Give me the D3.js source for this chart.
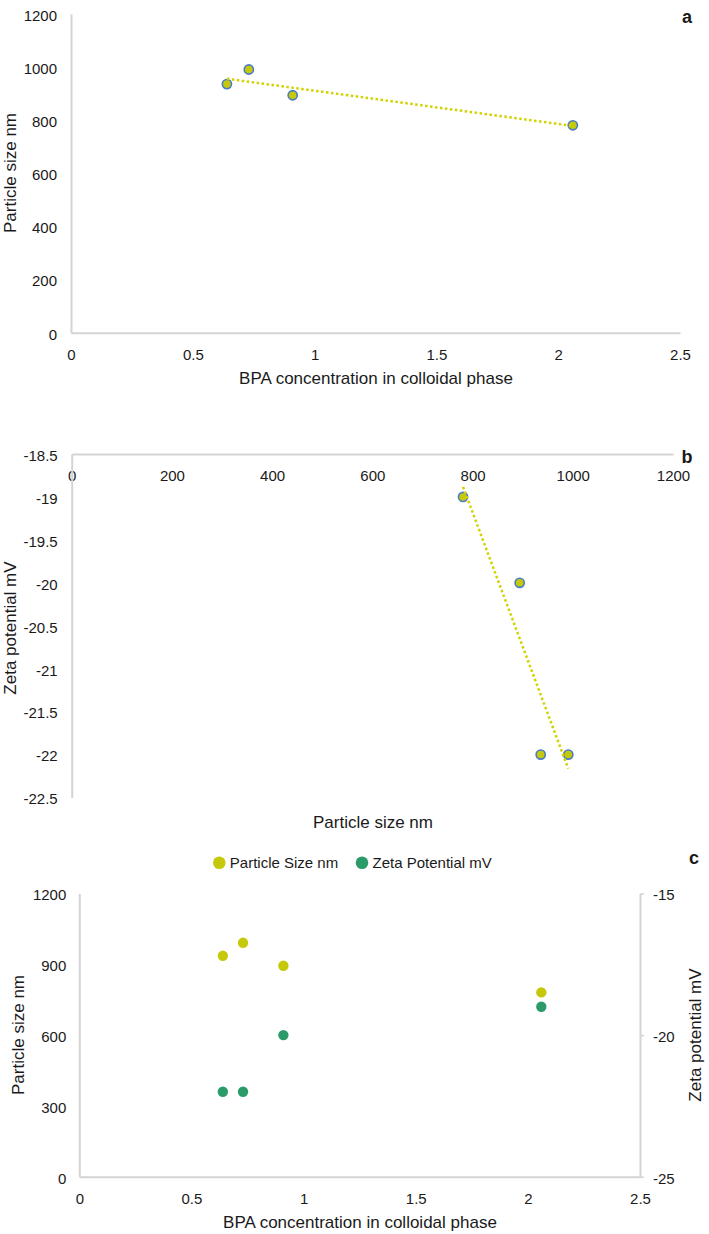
<!DOCTYPE html>
<html><head><meta charset="utf-8">
<script src="https://cdn.jsdelivr.net/npm/d3@7"></script>
<style>
html,body{margin:0;padding:0;background:#fff;}
svg{display:block;font-family:"Liberation Sans",Arial,sans-serif;}
</style></head>
<body>
<svg id="chart" width="709" height="1234"></svg>
<script>
// ---- data ----
const bpaConc = [0.64, 0.73, 0.91, 2.06];
const particleSize = [936, 991, 894, 781];
const zetaPotential = [-22, -22, -20, -19];
const bpaTicks = [0, 0.5, 1, 1.5, 2, 2.5];
const sizeTicksA = [0, 200, 400, 600, 800, 1000, 1200];
const sizeTicksB = [0, 200, 400, 600, 800, 1000, 1200];
const zetaTicksB = [-18.5, -19, -19.5, -20, -20.5, -21, -21.5, -22, -22.5];
const sizeTicksC = [0, 300, 600, 900, 1200];
const zetaTicksC = [-15, -20, -25];
const legendLabels = ["Particle Size nm", "Zeta Potential mV"];

// ---- style ----
const axisColor = "#d4d4d4";
const yellow = "#c6c90a";
const trendColor = "#d2d200";
const blue = "#4a7cc4";
const green = "#2b9c69";
const tickFont = 15, titleFont = 17;

const svg = d3.select("#chart");
const fmt = d => String(d);

function styleAxis(g) {
  g.select(".domain").attr("stroke", axisColor).attr("stroke-width", 2);
  g.selectAll(".tick line").attr("stroke", axisColor).attr("stroke-width", 1.5);
  g.selectAll("text").attr("fill", "#1a1a1a").attr("font-size", tickFont)
    .attr("font-family", "'Liberation Sans', Arial, sans-serif");
}

function linreg(xs, ys) {
  const n = xs.length;
  const mx = d3.mean(xs), my = d3.mean(ys);
  let sxy = 0, sxx = 0;
  for (let i = 0; i < n; i++) { sxy += (xs[i]-mx)*(ys[i]-my); sxx += (xs[i]-mx)**2; }
  const b = sxy / sxx;
  return x => my + b*(x - mx);
}

function title(text, x, y, rot, weight, size) {
  const t = svg.append("text").text(text)
    .attr("font-size", size || titleFont).attr("fill", "#1a1a1a")
    .attr("text-anchor", "middle").attr("dominant-baseline", "central");
  if (weight) t.attr("font-weight", weight);
  if (rot) t.attr("transform", `translate(${x},${y}) rotate(${rot})`);
  else t.attr("x", x).attr("y", y);
  return t;
}

// ================= Panel a =================
{
  const x = d3.scaleLinear().domain([0, 2.5]).range([71, 680]);
  const y = d3.scaleLinear().domain([0, 1200]).range([332.7, 14]);
  const gx = svg.append("g").attr("transform", `translate(0,${y(0)})`)
    .call(d3.axisBottom(x).tickValues(bpaTicks).tickFormat(fmt).tickSize(0).tickPadding(17));
  styleAxis(gx);
  const gy = svg.append("g").attr("transform", `translate(${x(0)},0)`)
    .call(d3.axisLeft(y).tickValues(sizeTicksA).tickFormat(fmt).tickSize(0).tickPadding(14));
  styleAxis(gy);
  gy.selectAll("text").attr("dy", "0.42em");

  const pts = bpaConc.map((v, i) => [v, particleSize[i]]);
  svg.append("g").selectAll("circle").data(pts).join("circle")
    .attr("cx", d => x(d[0])).attr("cy", d => y(d[1])).attr("r", 4.6)
    .attr("fill", yellow).attr("stroke", blue).attr("stroke-width", 1.6);
  const f = linreg(bpaConc, particleSize);
  const x0 = d3.min(bpaConc), x1 = d3.max(bpaConc);
  svg.append("line").attr("x1", x(x0)).attr("y1", y(f(x0))).attr("x2", x(x1)).attr("y2", y(f(x1)))
    .attr("stroke", trendColor).attr("stroke-width", 2.5).attr("stroke-dasharray", "2.5 2.5");

  title("BPA concentration in colloidal phase", 376, 378);
  title("Particle size nm", 10, 173, -90);
  title("a", 687, 17, 0, "bold", 18);
}

// ================= Panel b =================
{
  const x = d3.scaleLinear().domain([0, 1200]).range([71.7, 673]);
  const y = d3.scaleLinear().domain([-18.5, -22.5]).range([454, 797.5]);
  const gx = svg.append("g").attr("transform", `translate(0,${y(-18.5)})`)
    .call(d3.axisBottom(x).tickValues(sizeTicksB).tickFormat(fmt).tickSize(0).tickPadding(16.4));
  styleAxis(gx);
  const gy = svg.append("g").attr("transform", `translate(${x(0)},0)`)
    .call(d3.axisLeft(y).tickValues(zetaTicksB).tickFormat(fmt).tickSize(0).tickPadding(14));
  styleAxis(gy);
  gy.selectAll("text").attr("dy", "0.42em");

  const pts = particleSize.map((v, i) => [v, zetaPotential[i]]);
  svg.append("g").selectAll("circle").data(pts).join("circle")
    .attr("cx", d => x(d[0])).attr("cy", d => y(d[1])).attr("r", 4.6)
    .attr("fill", yellow).attr("stroke", blue).attr("stroke-width", 1.6);
  const f = linreg(particleSize, zetaPotential);
  const x0 = d3.min(particleSize), x1 = d3.max(particleSize);
  svg.append("line").attr("x1", x(x0)).attr("y1", y(f(x0))).attr("x2", x(x1)).attr("y2", y(f(x1)))
    .attr("stroke", trendColor).attr("stroke-width", 2.5).attr("stroke-dasharray", "2.5 2.5");

  title("Particle size nm", 373, 822);
  title("Zeta potential mV", 10, 628, -90);
  title("b", 687, 457, 0, "bold", 18);
}

// ================= Panel c =================
{
  const x = d3.scaleLinear().domain([0, 2.5]).range([79.3, 640]);
  const yL = d3.scaleLinear().domain([0, 1200]).range([1176.7, 893.5]);
  const yR = d3.scaleLinear().domain([-25, -15]).range([1176.7, 893.5]);
  const gx = svg.append("g").attr("transform", `translate(0,${yL(0)})`)
    .call(d3.axisBottom(x).tickValues(bpaTicks).tickFormat(fmt).tickSize(0).tickPadding(17));
  styleAxis(gx);
  const gy = svg.append("g").attr("transform", `translate(${x(0)},0)`)
    .call(d3.axisLeft(yL).tickValues(sizeTicksC).tickFormat(fmt).tickSize(0).tickPadding(13));
  styleAxis(gy);
  gy.selectAll("text").attr("dy", "0.42em");
  const gr = svg.append("g").attr("transform", `translate(${x(2.5)},0)`)
    .call(d3.axisRight(yR).tickValues(zetaTicksC).tickFormat(fmt).tickSizeInner(4).tickSizeOuter(0).tickPadding(9));
  styleAxis(gr);
  gr.selectAll("text").attr("dy", "0.42em");

  svg.append("g").selectAll("circle").data(bpaConc.map((v, i) => [v, particleSize[i]])).join("circle")
    .attr("cx", d => x(d[0])).attr("cy", d => yL(d[1])).attr("r", 5.2).attr("fill", yellow);
  svg.append("g").selectAll("circle").data(bpaConc.map((v, i) => [v, zetaPotential[i]])).join("circle")
    .attr("cx", d => x(d[0])).attr("cy", d => yR(d[1])).attr("r", 5.2).attr("fill", green);

  // legend
  const lg = svg.append("g");
  const lx = [219.3, 362], colors = [yellow, green];
  legendLabels.forEach((lab, i) => {
    lg.append("circle").attr("cx", lx[i]).attr("cy", 862.7).attr("r", 6.3).attr("fill", colors[i]);
    lg.append("text").text(lab).attr("x", lx[i] + 10.5).attr("y", 862.7)
      .attr("dominant-baseline", "central").attr("font-size", 15).attr("fill", "#1a1a1a");
  });

  title("BPA concentration in colloidal phase", 360, 1222.7);
  title("Particle size nm", 18, 1035, -90);
  title("Zeta potential mV", 695, 1035, -90);
  title("c", 694, 858, 0, "bold", 18);
}
</script>
</body></html>
